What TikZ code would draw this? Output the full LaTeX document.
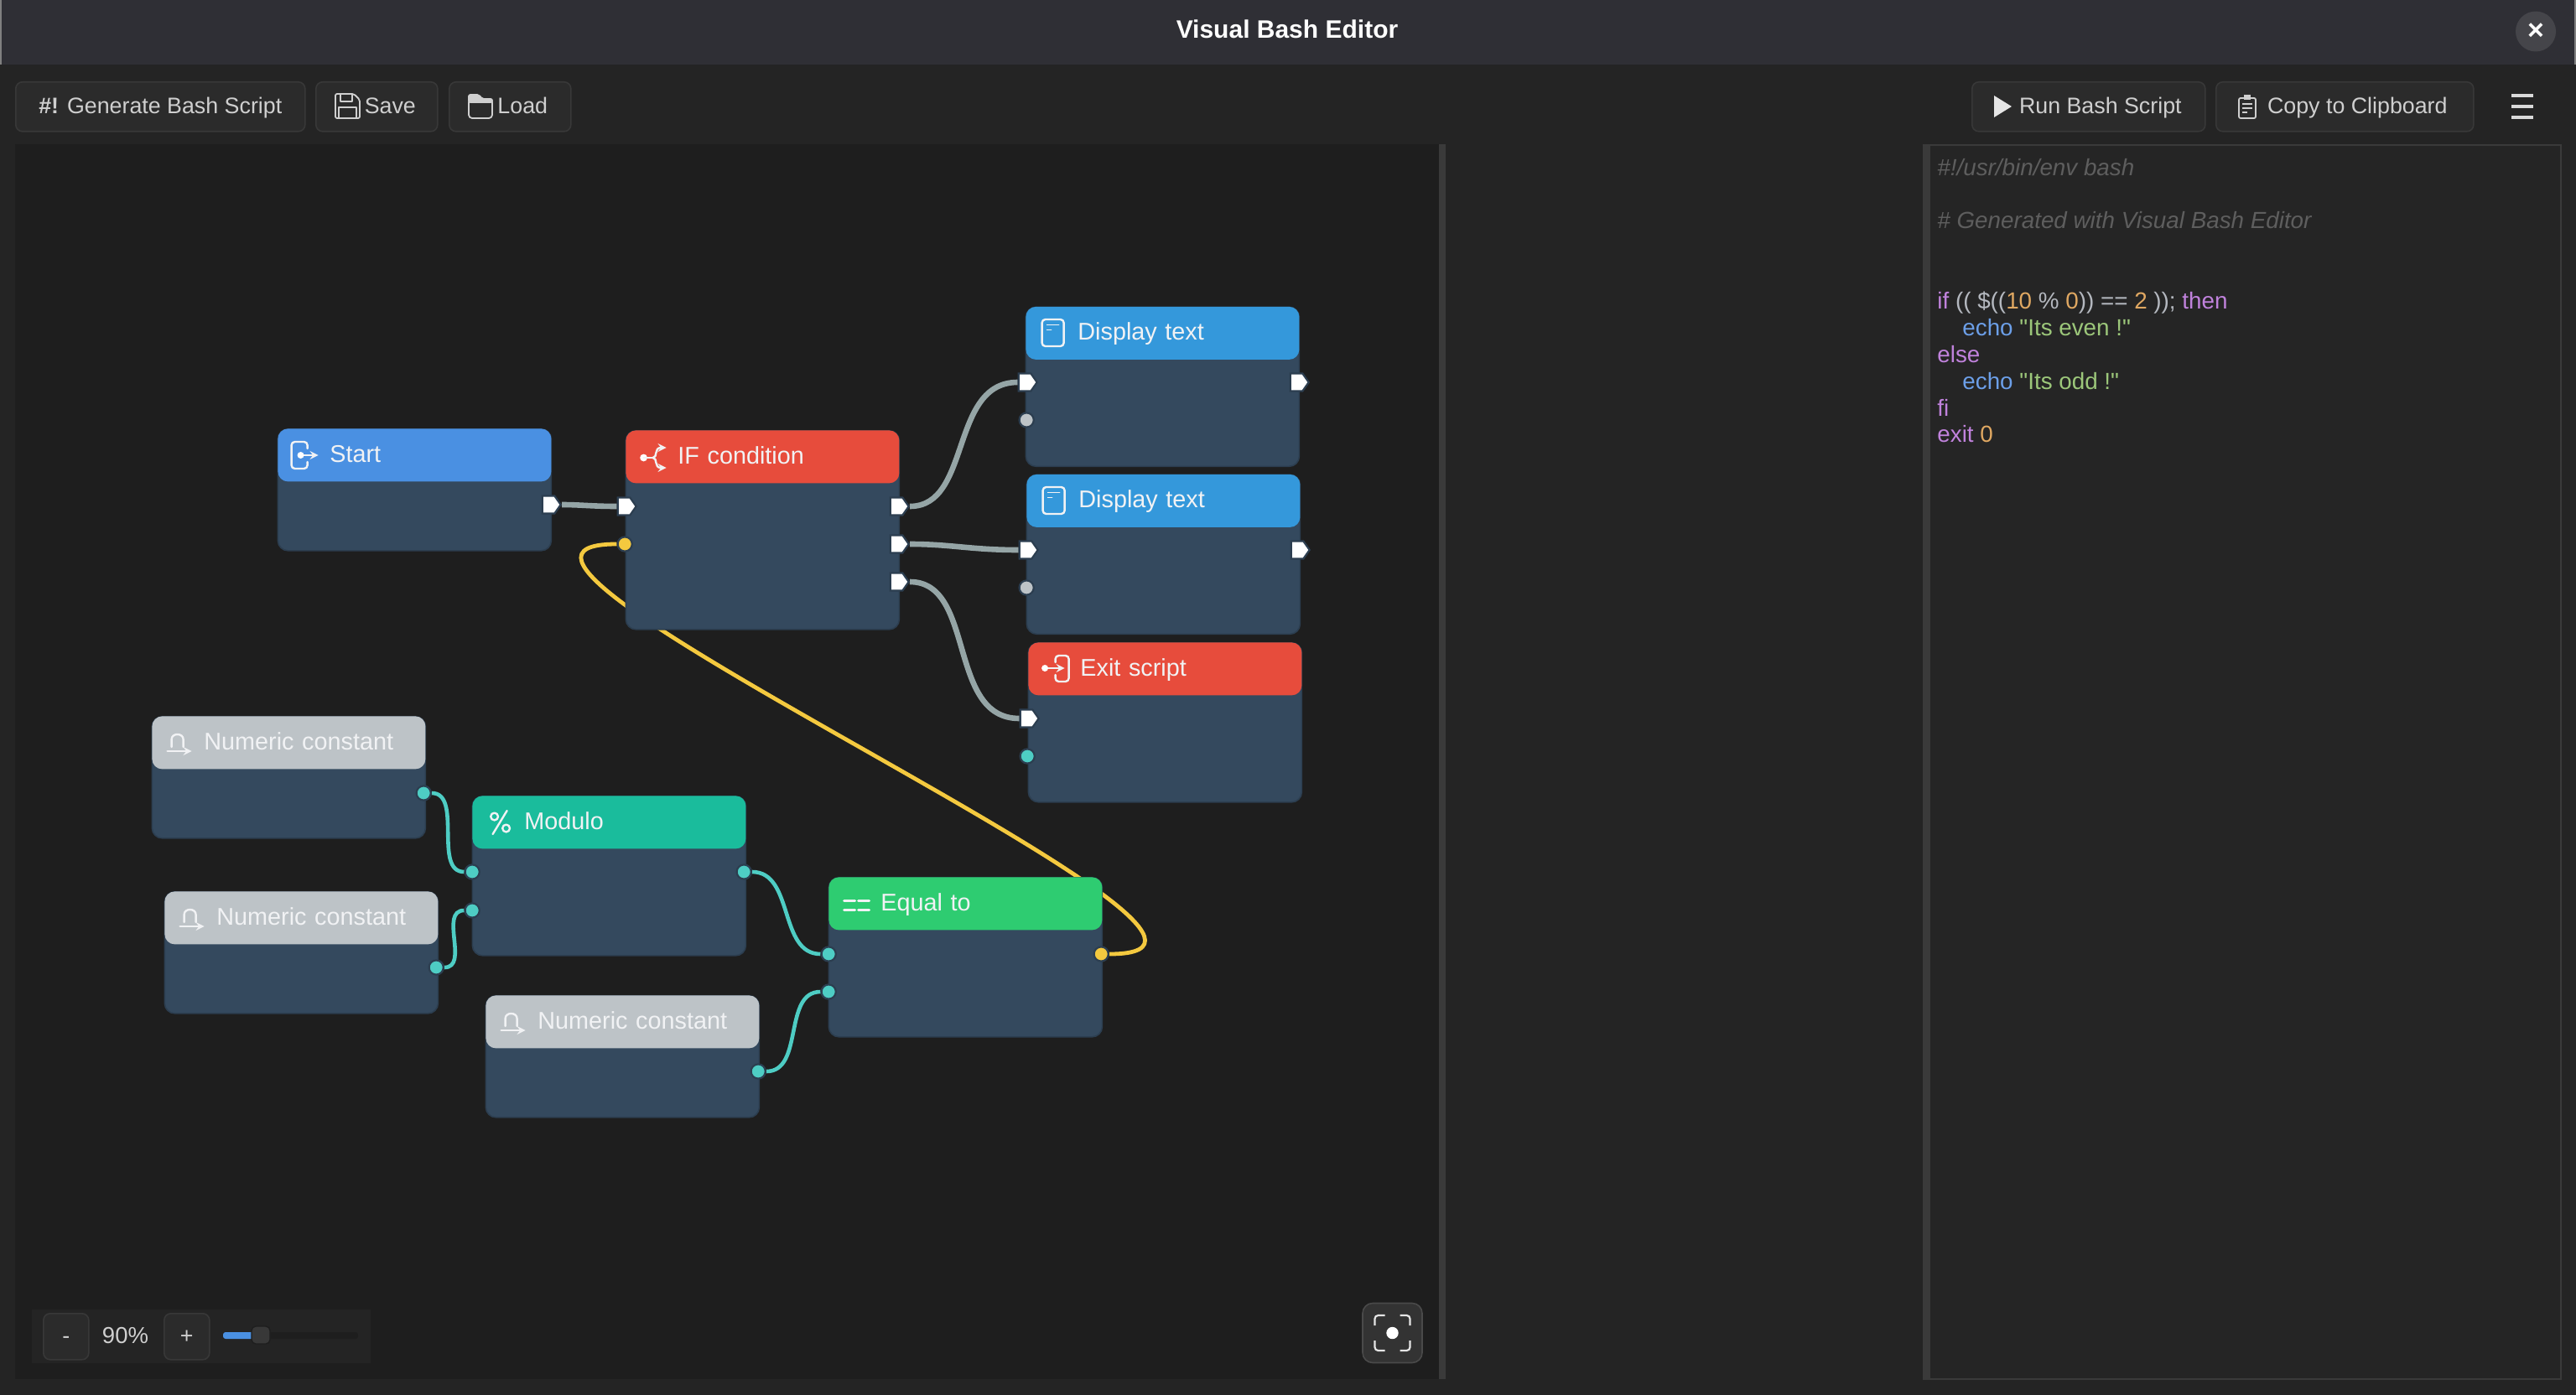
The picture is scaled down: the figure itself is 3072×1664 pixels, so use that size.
\documentclass[tikz,border=0pt]{standalone}
\usepackage{fontspec}
\setmainfont{Liberation Sans}
\newfontfamily\codefont{Liberation Sans}
\usepackage{xcolor}
\usetikzlibrary{shapes.symbols, arrows}
\usetikzlibrary{positioning}
\definecolor{titlebar}{HTML}{2F2F35}
\definecolor{window}{HTML}{242424}
\definecolor{canvas}{HTML}{1E1E1E}
\definecolor{editorbg}{HTML}{252525}
\definecolor{splitter}{HTML}{3A3A3A}
\definecolor{btnfill}{HTML}{2B2B2B}
\definecolor{btnline}{HTML}{383838}
\definecolor{btntext}{HTML}{CFCFCF}
\definecolor{closefill}{HTML}{45454A}
\definecolor{fitfill}{HTML}{333333}
\definecolor{fitline}{HTML}{4A4A4A}
\definecolor{nodebody}{HTML}{34495E}
\definecolor{nodeline}{HTML}{2C3E50}
\definecolor{startblue}{HTML}{4A90E2}
\definecolor{textblue}{HTML}{3498DB}
\definecolor{ifred}{HTML}{E74C3C}
\definecolor{constgrey}{HTML}{BDC3C7}
\definecolor{modteal}{HTML}{1ABC9C}
\definecolor{eqgreen}{HTML}{2ECC71}
\definecolor{pingrey}{HTML}{95A5A6}
\definecolor{pinteal}{HTML}{4ECDC4}
\definecolor{pinyellow}{HTML}{F4C93F}
\definecolor{cmtgrey}{HTML}{5E5E5E}
\definecolor{kwpurple}{HTML}{C082DC}
\definecolor{numorange}{HTML}{E0A862}
\definecolor{cmdblue}{HTML}{6C9FE8}
\definecolor{strgreen}{HTML}{9CC77A}
\definecolor{plaintext}{HTML}{B4B8BF}
\pgfdeclarelayer{panel}
\pgfdeclarelayer{wire}
\pgfsetlayers{panel,wire,main}
\tikzstyle{body} = [rectangle, rounded corners=6pt, anchor=north west, xshift=-0.2pt, yshift=0.5pt, minimum width=163pt, minimum height=72.5pt, inner sep=0pt, draw=nodeline, line width=0.8pt, fill=nodebody]
\tikzstyle{bodytall} = [body, minimum height=95pt]
\tikzstyle{bodyif} = [body, minimum height=118.5pt]
\tikzstyle{head} = [rectangle, rounded corners=6pt, minimum height=31.5pt, text width=163pt, inner xsep=0pt, inner ysep=0pt, align=left, text height=9.5pt, text depth=1pt, font=\fontsize{14.4}{16}\selectfont, text=white!93!nodebody, execute at begin node=\hspace*{31pt}]
\tikzstyle{pin} = [circle, xshift=-0.4pt, minimum size=8.6pt, inner sep=0pt, draw=nodeline, line width=1.1pt]
\tikzstyle{execpin} = [signal, signal to=east, signal pointer angle=110, xshift=-1pt, minimum width=11pt, minimum height=10.5pt, inner sep=0pt, fill=white, draw=nodeline, line width=1.1pt]
\tikzstyle{execwire} = [line width=3.3pt, draw=pingrey]
\tikzstyle{tealwire} = [line width=2.3pt, draw=pinteal]
\tikzstyle{yellowwire} = [line width=2.4pt, draw=pinyellow]
\tikzstyle{button} = [rectangle, rounded corners=4pt, minimum height=29.5pt, inner sep=0pt, anchor=north west, text height=11pt, text depth=2.5pt, draw=btnline, line width=0.8pt, fill=btnfill, text=btntext, font=\fontsize{13.4}{16}\selectfont]
\tikzstyle{codeline} = [anchor=base west, inner sep=0pt, text=plaintext, font=\codefont\fontsize{13.9}{16}\selectfont]
\tikzstyle{iconline} = [draw=white!93!nodebody, line width=1.2pt, line cap=round, line join=round, >=stealth]
\tikzstyle{btnicon} = [draw=btntext, line width=0.9pt, line join=round]
\newcommand{\iconstart}[1]{\begin{scope}[shift={(#1)}]
    \draw[iconline, rounded corners=2pt] (36,24) -- (36,16) -- (17,16) -- (17,48) -- (36,48) -- (36,40);
    \draw[iconline,->] (28,32) -- (49,32);
    \fill[white] (28,32) circle (2pt);
  \end{scope}}
\newcommand{\iconif}[1]{\begin{scope}[shift={(#1)}]
    \fill[white] (22,33) circle (2.2pt);
    \draw[iconline] (22,33) -- (33,33);
    \draw[iconline,->] (33,33) .. controls (39,33) and (34,21) .. (49,21);
    \draw[iconline,->] (33,33) .. controls (39,33) and (34,45) .. (49,45);
  \end{scope}}
\newcommand{\icondisplay}[1]{\begin{scope}[shift={(#1)}]
    \draw[iconline, rounded corners=2pt] (20,15.5) rectangle (46,47.5);
    \draw[iconline, line width=0.8pt] (26,22) -- (40,22);
    \draw[iconline, line width=0.8pt] (26,28) -- (31,28);
  \end{scope}}
\newcommand{\iconexit}[1]{\begin{scope}[shift={(#1)}]
    \draw[iconline, rounded corners=2pt] (33,24) -- (33,16) -- (49,16) -- (49,47) -- (33,47) -- (33,39);
    \draw[iconline,->] (20.5,31) -- (44,31);
    \fill[white] (20.5,31) circle (2pt);
  \end{scope}}
\newcommand{\iconconst}[1]{\begin{scope}[shift={(#1)}]
    \draw[iconline] (24,37) -- (24,28) .. controls (24,20) and (38,20) .. (38,28) -- (38,37);
    \draw[iconline,->] (19,42) -- (48,42);
  \end{scope}}
\newcommand{\iconmod}[1]{\begin{scope}[shift={(#1)}]
    \draw[iconline] (27,25) circle (2.2pt);
    \draw[iconline] (41,39) circle (2.2pt);
    \draw[iconline] (42,18) -- (25,46);
  \end{scope}}
\newcommand{\iconeq}[1]{\begin{scope}[shift={(#1)}]
    \foreach \ypos in {28,39} {
      \draw[iconline, line width=1.5pt] (19,\ypos) -- (32,\ypos);
      \draw[iconline, line width=1.5pt] (36,\ypos) -- (49,\ypos);
    }
  \end{scope}}

\begin{document}
\begin{tikzpicture}[x=0.5pt,y=-0.5pt]
  \useasboundingbox (0,0) rectangle (3072,1664);
  \begin{pgfonlayer}{panel}
    \fill[window] (0,0) rectangle (3072,1664);
    \fill[titlebar] (0,0) rectangle (3072,77);
    \draw[gray, line width=0.8pt] (0.8,0) -- (0.8,77);
    \draw[gray, line width=0.8pt] (3071.2,0) -- (3071.2,77);
    \fill[canvas] (18,172) rectangle (1716,1645);
    \fill[splitter] (1716,172) rectangle (1724,1645);
    \fill[editorbg] (2294,173) rectangle (3054,1645);
    \draw[splitter, line width=0.8pt] (2294,173) rectangle (3054,1645);
    \fill[splitter] (2294,173) rectangle (2302,1645);
    \fill[window] (38,1562) rectangle (442,1626);
  \end{pgfonlayer}

  \node (title) [text=white, font=\bfseries\fontsize{15}{18}\selectfont] at (1535,35) {Visual Bash Editor};
  \node (close) [circle, minimum size=24pt, inner sep=0pt, fill=closefill, text=white, font=\bfseries\fontsize{17}{18}\selectfont] at (3024,37.5) {×};

  % toolbar
  \node (generate) [button, minimum width=172.5pt] at (18,97) {\textbf{\#!} Generate Bash Script};
  \node (save) [button, minimum width=72.5pt] at (376,97) {\hspace*{16pt}Save};
  \node (load) [button, minimum width=72.5pt] at (535,97) {\hspace*{15pt}Load};
  \node (run) [button, minimum width=139pt] at (2351,97) {\hspace*{14pt}Run Bash Script};
  \node (copy) [button, minimum width=153.5pt] at (2642,97) {\hspace*{15pt}Copy to Clipboard};
  \begin{scope}[shift={(400,112)}]
    \draw[btnicon, rounded corners=1pt] (0,0) -- (22,0) -- (29,7) -- (29,29) -- (0,29) -- cycle;
    \draw[btnicon] (6,0) -- (6,9) -- (20,9) -- (20,0);
    \draw[btnicon] (4,29) -- (4,16) -- (25,16) -- (25,29);
  \end{scope}
  \begin{scope}[shift={(559,113)}]
    \draw[btnicon, fill=btntext, rounded corners=1pt] (0,0) -- (12,0) -- (16,5) -- (28,5) -- (28,9) -- (0,9) -- cycle;
    \draw[btnicon, rounded corners=2pt] (0,5) rectangle (28,28);
  \end{scope}
  \fill[white!90!black] (2378,114) -- (2399,127) -- (2378,140) -- cycle;
  \begin{scope}[shift={(2670,115)}]
    \draw[btnicon, rounded corners=1pt] (0,2) rectangle (20,26);
    \fill[btntext] (6,-2) rectangle (14,4);
    \draw[btnicon, line width=0.7pt] (4,9) -- (16,9);
    \draw[btnicon, line width=0.7pt] (4,14) -- (16,14);
    \draw[btnicon, line width=0.7pt] (4,19) -- (10,19);
  \end{scope}
  \foreach \ypos in {114,127,140} {
    \draw[white!85!black, line width=2pt] (2995,\ypos) -- (3021,\ypos);
  }

  % start and branch
  \node (start) [body] at (331,512) {};
  \node (starthead) [head, fill=startblue, below=0pt of start.north] {Start};
  \node (ifnode) [bodyif] at (746,514) {};
  \node (ifhead) [head, fill=ifred, below=0pt of ifnode.north] {IF condition};
  \node (showeven) [bodytall] at (1223,366.5) {};
  \node (evenhead) [head, fill=textblue, below=0pt of showeven.north] {Display text};
  \node (showodd) [bodytall] at (1224,566.5) {};
  \node (oddhead) [head, fill=textblue, below=0pt of showodd.north] {Display text};
  \node (exitnode) [bodytall] at (1226,767) {};
  \node (exithead) [head, fill=ifred, below=0pt of exitnode.north] {Exit script};

  % condition
  \node (constA) [body] at (181,855) {};
  \node (constAhead) [head, fill=constgrey, below=0pt of constA.north] {Numeric constant};
  \node (constB) [body] at (196,1064) {};
  \node (constBhead) [head, fill=constgrey, below=0pt of constB.north] {Numeric constant};
  \node (constC) [body] at (579,1188) {};
  \node (constChead) [head, fill=constgrey, below=0pt of constC.north] {Numeric constant};
  \node (modulo) [bodytall] at (563,950) {};
  \node (modhead) [head, fill=modteal, below=0pt of modulo.north] {Modulo};
  \node (equal) [bodytall] at (988,1047) {};
  \node (eqhead) [head, fill=eqgreen, below=0pt of equal.north] {Equal to};

  \iconstart{start.north west}
  \iconif{ifnode.north west}
  \icondisplay{showeven.north west}
  \icondisplay{showodd.north west}
  \iconexit{exitnode.north west}
  \iconconst{constA.north west}
  \iconconst{constB.north west}
  \iconconst{constC.north west}
  \iconmod{modulo.north west}
  \iconeq{equal.north west}

  \node (startout) [execpin] at (656,602) {};
  \node (ifin) [execpin] at (746,604) {};
  \node (ifcond) [pin, fill=pinyellow] at (746,649) {};
  \node (ifoutA) [execpin] at (1071,604) {};
  \node (ifoutB) [execpin] at (1071,649) {};
  \node (ifoutC) [execpin] at (1071,694) {};
  \node (evenin) [execpin] at (1224,456) {};
  \node (evenarg) [pin, fill=constgrey] at (1225,501) {};
  \node (evenout) [execpin] at (1548,456) {};
  \node (oddin) [execpin] at (1225,656) {};
  \node (oddarg) [pin, fill=constgrey] at (1225,701) {};
  \node (oddout) [execpin] at (1549,656) {};
  \node (exitin) [execpin] at (1226,857) {};
  \node (exitarg) [pin, fill=pinteal] at (1226,902) {};
  \node (constAout) [pin, fill=pinteal] at (506,946) {};
  \node (constBout) [pin, fill=pinteal] at (521,1154) {};
  \node (constCout) [pin, fill=pinteal] at (905,1278) {};
  \node (modinA) [pin, fill=pinteal] at (564,1040) {};
  \node (modinB) [pin, fill=pinteal] at (564,1086) {};
  \node (modout) [pin, fill=pinteal] at (888,1040) {};
  \node (eqinA) [pin, fill=pinteal] at (989,1138) {};
  \node (eqinB) [pin, fill=pinteal] at (989,1183) {};
  \node (eqout) [pin, fill=pinyellow] at (1314,1138) {};

  \begin{pgfonlayer}{wire}
    \draw[execwire] (startout) .. controls +(38,0) and +(-38,0) .. (ifin);
    \draw[execwire] (ifoutA) .. controls +(90,0) and +(-90,0) .. (evenin);
    \draw[execwire] (ifoutB) .. controls +(65,0) and +(-65,0) .. (oddin);
    \draw[execwire] (ifoutC) .. controls +(95,0) and +(-95,0) .. (exitin);
    \draw[tealwire] (constAout) .. controls +(47,0) and +(-47,0) .. (modinA);
    \draw[tealwire] (constBout) .. controls +(40,0) and +(-40,0) .. (modinB);
    \draw[tealwire] (modout) .. controls +(60,0) and +(-60,0) .. (eqinA);
    \draw[tealwire] (constCout) .. controls +(55,0) and +(-55,0) .. (eqinB);
    \draw[yellowwire] (eqout) .. controls +(282,0) and +(-282,0) .. (ifcond);
  \end{pgfonlayer}

  % generated script
  \node (lineA) [codeline, text=cmtgrey] at (2310,210) {\itshape \#!/usr/bin/env bash};
  \node (lineB) [codeline, text=cmtgrey] at (2310,272) {\itshape \# Generated with Visual Bash Editor};
  \node (lineC) [codeline] at (2310,368) {\textcolor{kwpurple}{if} (( \$((\textcolor{numorange}{10} \% \textcolor{numorange}{0})) == \textcolor{numorange}{2} )); \textcolor{kwpurple}{then}};
  \node (lineD) [codeline] at (2340,400) {\textcolor{cmdblue}{echo} \textcolor{strgreen}{"Its even !"}};
  \node (lineE) [codeline, text=kwpurple] at (2310,432) {else};
  \node (lineF) [codeline] at (2340,464) {\textcolor{cmdblue}{echo} \textcolor{strgreen}{"Its odd !"}};
  \node (lineG) [codeline, text=kwpurple] at (2310,496) {fi};
  \node (lineH) [codeline] at (2310,527.5) {\textcolor{kwpurple}{exit} \textcolor{numorange}{0}};

  % zoom controls
  \node (zoomout) [button, minimum width=27pt, minimum height=27.5pt] at (51,1566) {-};
  \node (zoomlabel) [text=btntext, font=\fontsize{13.75}{16}\selectfont] at (149.5,1593) {90\%};
  \node (zoomin) [button, minimum width=27pt, minimum height=27.5pt] at (195,1566) {+};
  \fill[canvas, rounded corners=1.5pt] (266,1589) rectangle (427,1597);
  \fill[startblue, rounded corners=1.5pt] (266,1589) rectangle (304,1597);
  \node (zoomknob) [rectangle, rounded corners=2.5pt, minimum width=11pt, minimum height=10.5pt, inner sep=0pt, fill=btnline, draw=canvas, line width=0.7pt] at (311,1592.5) {};

  % fit view
  \node (fitview) [rectangle, rounded corners=6pt, minimum width=35.5pt, minimum height=35.5pt, inner sep=0pt, fill=fitfill, draw=fitline, line width=0.8pt] at (1660.5,1590) {};
  \begin{scope}[shift={(fitview.center)}]
    \draw[white!90!black, line width=1.1pt, rounded corners=2pt] (-21,-9) -- (-21,-21) -- (-9,-21);
    \draw[white!90!black, line width=1.1pt, rounded corners=2pt] (21,-9) -- (21,-21) -- (9,-21);
    \draw[white!90!black, line width=1.1pt, rounded corners=2pt] (-21,9) -- (-21,21) -- (-9,21);
    \draw[white!90!black, line width=1.1pt, rounded corners=2pt] (21,9) -- (21,21) -- (9,21);
    \fill[white] (0,0) circle (3.6pt);
  \end{scope}
\end{tikzpicture}
\end{document}
